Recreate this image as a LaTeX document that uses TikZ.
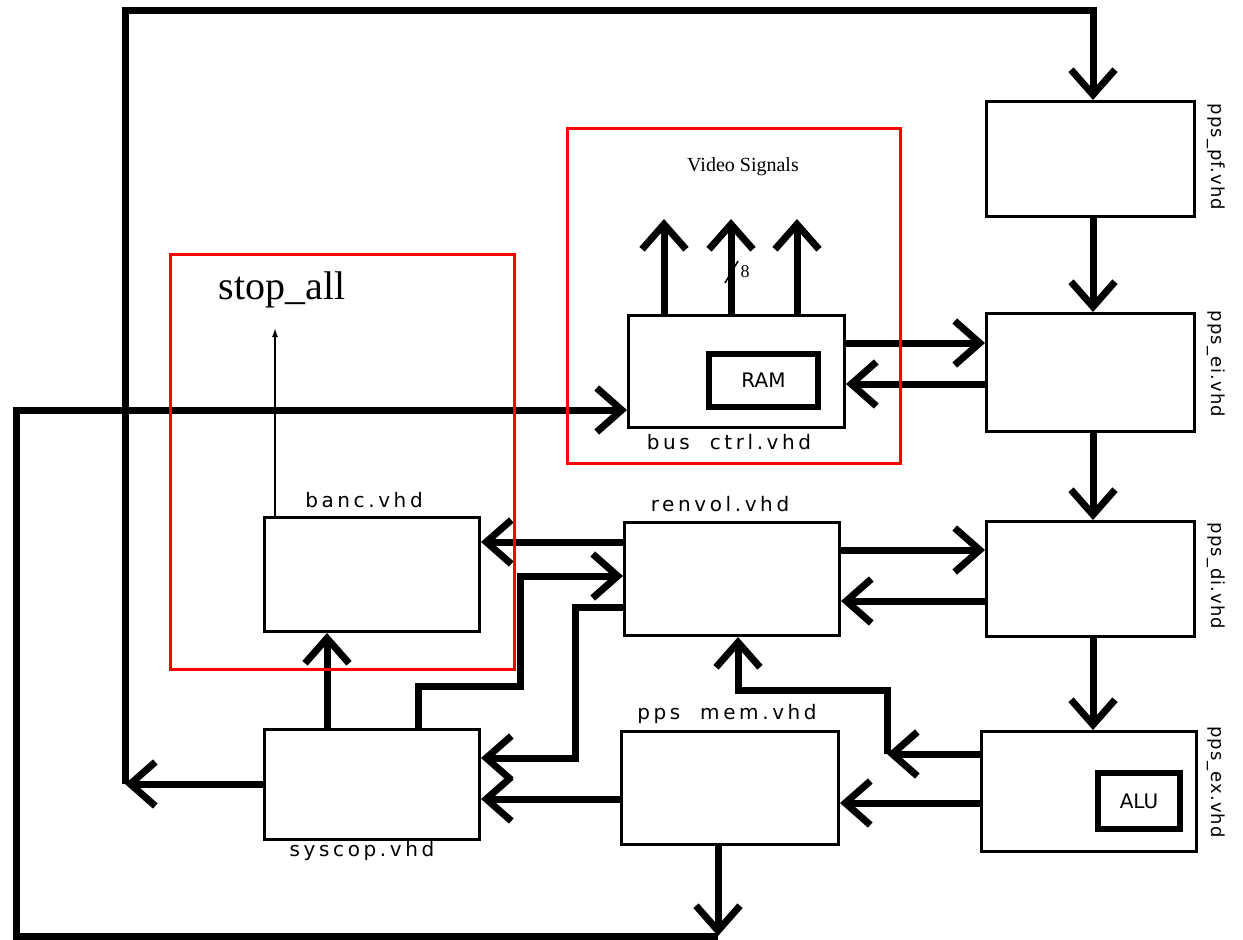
\documentclass[tikz,border=0pt]{standalone}
\usepackage{fontspec}
\setmainfont{DejaVu Sans}
\newfontfamily\lblfont[LetterSpace=18]{DejaVu Sans}
\newfontfamily\rlblfont[LetterSpace=6]{DejaVu Sans}
\newfontfamily\tmsfont{Liberation Serif}
\usetikzlibrary{arrows.meta}
\begin{document}
\begin{tikzpicture}[x=1pt,y=-1pt,
  box/.style={draw,line width=3pt,fill=white,inner sep=0pt,anchor=north west},
  inbox/.style={draw,line width=6pt,inner sep=0pt,anchor=north west,font=\fontsize{20}{24}\selectfont},
  frame/.style={draw=red,line width=3pt},
  wire/.style={line width=7pt},
  arr/.style={line width=7pt,-{Straight Barb[length=25pt,width=44pt]}},
  lbl/.style={font=\lblfont\fontsize{20}{24}\selectfont,inner sep=0pt},
  rlbl/.style={font=\rlblfont\fontsize{18}{22}\selectfont,inner sep=0pt,rotate=-90},
  thinarr/.style={line width=1.5pt,-{Latex[length=9pt,width=6pt]}}
]
\useasboundingbox[fill=white] (0,0) rectangle (1243,940);

% boxes
\node[box,minimum width=208pt,minimum height=115pt] (pf) at (985,100) {};
\node[box,minimum width=208pt,minimum height=118pt] (ei) at (985,312) {};
\node[box,minimum width=208pt,minimum height=115pt] (di) at (985,520) {};
\node[box,minimum width=215pt,minimum height=120pt] (ex) at (980,730) {};
\node[box,minimum width=216pt,minimum height=112pt] (bus) at (627,314) {};
\node[box,minimum width=215pt,minimum height=114pt] (banc) at (263,516) {};
\node[box,minimum width=215pt,minimum height=113pt] (renvol) at (623,521) {};
\node[box,minimum width=215pt,minimum height=110pt] (syscop) at (263,728) {};
\node[box,minimum width=217pt,minimum height=113pt] (mem) at (620,730) {};
\node[inbox,minimum width=109pt,minimum height=53pt] (ram) at (706,351) {RAM};
\node[inbox,minimum width=82pt,minimum height=56pt] (alu) at (1095,770) {ALU};

% labels
\node[lbl] (bancl) at (364,500) {banc.vhd};
\node[lbl] (renvoll) at (720,504) {renvol.vhd};
\node[lbl] (meml) at (727,714) {pps\ \ mem.vhd};
\node[lbl] (syscopl) at (362,851) {syscop.vhd};
\node[lbl] (busl) at (729,442) {bus\ \ ctrl.vhd};
\node[rlbl] (pfl) at (1216,157) {pps\_pf.vhd};
\node[rlbl] (eil) at (1216,364) {pps\_ei.vhd};
\node[rlbl] (dil) at (1216,576) {pps\_di.vhd};
\node[rlbl] (exl) at (1216,782) {pps\_ex.vhd};
\node[font=\tmsfont\fontsize{40}{44}\selectfont,inner sep=0pt] (stop) at (282,290) {stop\_all};
\node[font=\tmsfont\fontsize{20}{24}\selectfont,inner sep=0pt] (vs) at (743,167) {Video Signals};
\node[font=\tmsfont\fontsize{18}{18}\selectfont,inner sep=0pt] (eight) at (745,272) {8};

% top loop
\coordinate (c1) at (125,784);
\draw[arr] (syscop.west |- c1) -- (c1);
\draw[arr] (c1) |- (1093,10) -- (1093,0 |- pf.north);

% pipeline
\draw[arr] (1093,0 |- pf.south) -- (1093,0 |- ei.north);
\draw[arr] (1093,0 |- ei.south) -- (1093,0 |- di.north);
\draw[arr] (1093,0 |- di.south) -- (1093,0 |- ex.north);

% bus <-> ei
\draw[arr] (bus.east |- 0,343) -- (ei.west |- 0,343);
\draw[arr] (ei.west |- 0,384) -- (bus.east |- 0,384);
% renvol <-> di
\draw[arr] (renvol.east |- 0,550) -- (di.west |- 0,550);
\draw[arr] (di.west |- 0,601) -- (renvol.east |- 0,601);
% ex -> mem
\draw[arr] (ex.west |- 0,803) -- (mem.east |- 0,803);
% ex -> renvol
\coordinate (c2) at (887,754);
\draw[arr] (ex.west |- c2) -- (c2);
\draw[arr] (c2) -- (887,690) -| (738,0 |- renvol.south);
% renvol -> banc
\draw[arr] (renvol.west |- 0,542) -- (banc.east |- 0,542);
% syscop -> renvol
\draw[arr] (418,0 |- syscop.north) |- (520,686) |- (renvol.west |- 0,576);
% renvol -> syscop
\draw[arr] (renvol.west |- 0,607) -| (575,758) -- (syscop.east |- 0,758);
% mem -> syscop
\draw[arr] (mem.west |- 0,799) -- (syscop.east |- 0,799);
% syscop -> banc
\draw[arr] (327,0 |- syscop.north) -- (327,0 |- banc.south);
% bottom loop
\coordinate (c3) at (718,936);
\draw[arr] (718,0 |- mem.south) -- (c3);
\draw[arr] (c3) -- (16,936) -- (16,410) -- (bus.west |- 0,410);

% stop_all
\draw[thinarr] (275,0 |- banc.north) -- (275,328);

% video signals
\foreach \xx in {664,731,797}{
  \draw[arr] (\xx,0 |- bus.north) -- (\xx,219);
}
\draw[line width=1.5pt] (725,283) -- (738,261);

% red frames
\draw[frame] (567,128) rectangle (900,463);
\draw[frame] (170,254) rectangle (514,669);
\end{tikzpicture}
\end{document}
